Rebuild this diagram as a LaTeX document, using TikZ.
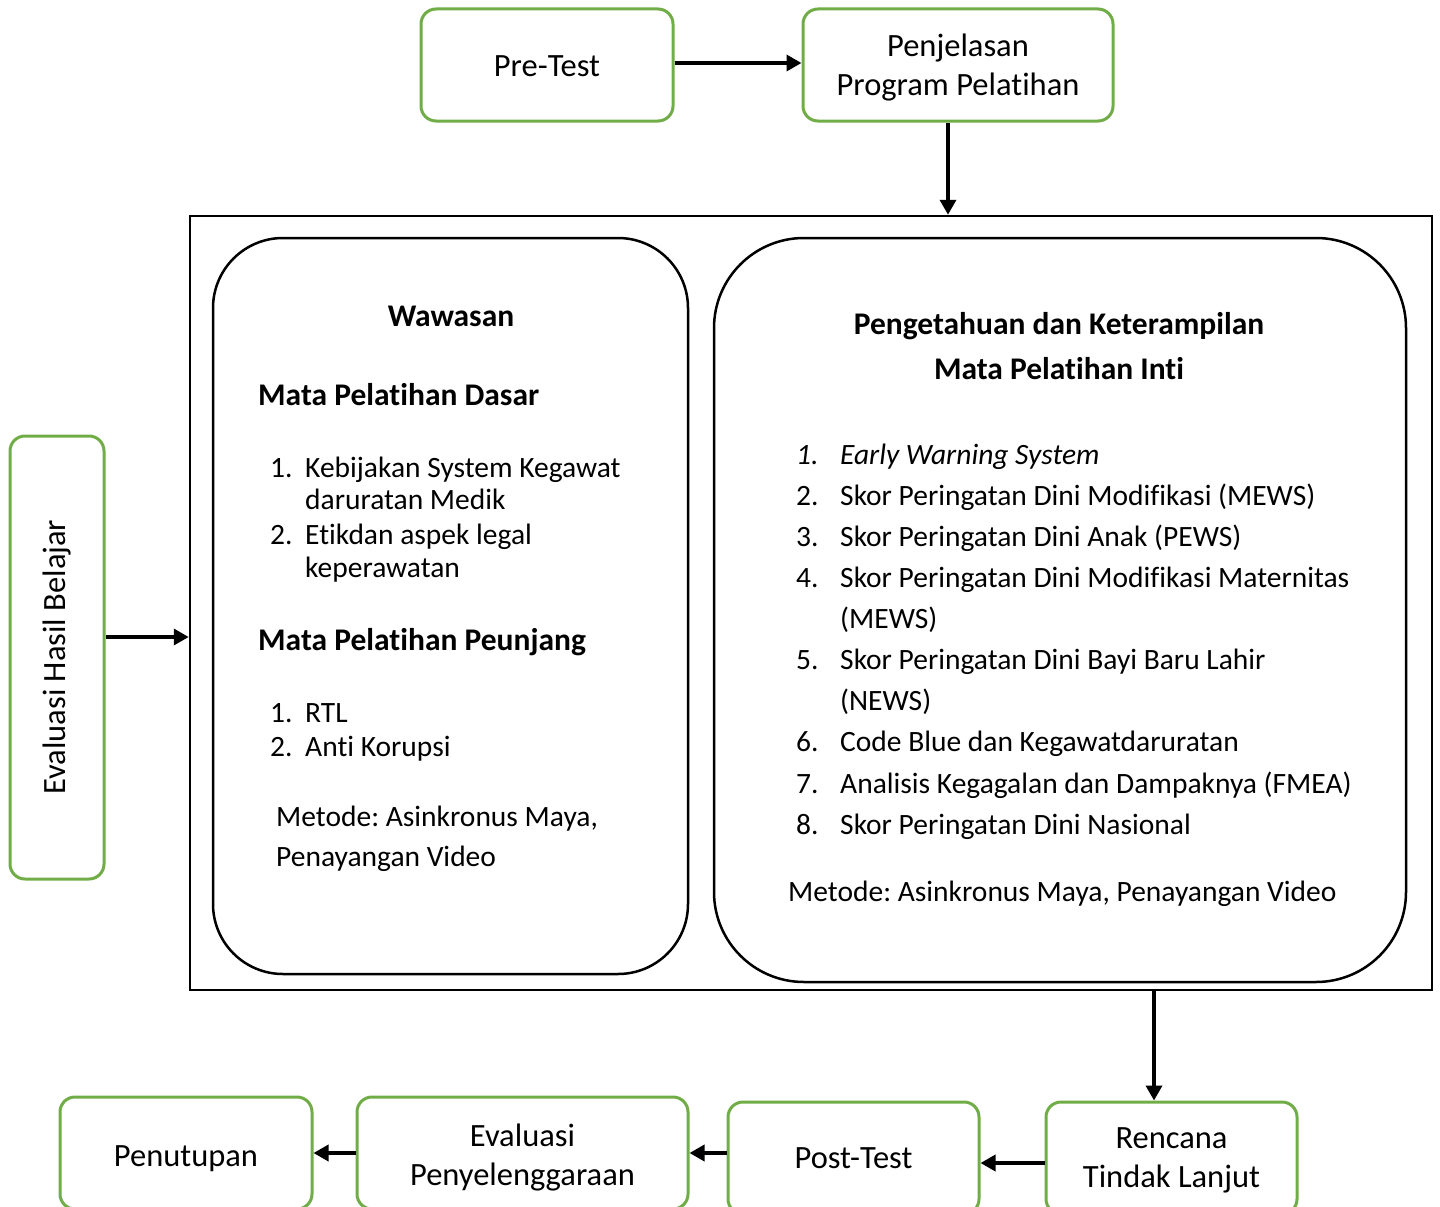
\documentclass[tikz,border=0pt]{standalone}
\usepackage{fontspec}
\setmainfont{Carlito}[Ligatures=NoCommon]
\usetikzlibrary{arrows.meta}
\definecolor{boxgreen}{HTML}{70AD47}
\frenchspacing
\newcommand{\dn}[2]{\raisebox{-#1pt}[0pt][0pt]{#2}}

\begin{document}
\begin{tikzpicture}[x=1pt,y=-1pt,
	every node/.style={font=\fontsize{29.5}{39}\selectfont, inner sep=0pt},
	gbox/.style={draw=boxgreen, line width=3pt, rounded corners=15pt, align=center, font=\fontsize{32.5}{39}\selectfont},
	arr/.style={line width=3.5pt, -{Triangle[length=15pt,width=16pt]}},
	txt/.style={anchor=base west},
	hd/.style={font=\fontsize{31.5}{39}\selectfont\bfseries}]
	\useasboundingbox (0,0) rectangle (1440,1207);
	
	% Top row
	\node[gbox, minimum width=252pt, minimum height=112pt] (pretest) at (547,65) {\dn{11.5}{Pre-Test}};
	\node[gbox, minimum width=310pt, minimum height=112pt] (penj) at (958,65) {\dn{11}{Penjelasan}\\\dn{11}{Program Pelatihan}};
	\draw[arr] (pretest.east |- 0,63) -- (penj.west |- 0,63);
	
	% Main frame with the two blocks
	\node[draw, line width=2.5pt, minimum width=1242pt, minimum height=774pt] (frame) at (811,603) {};
	\node[draw, line width=2.5pt, rounded corners=70pt, minimum width=475pt, minimum height=736pt] (dasar) at (450.5,606) {};
	\node[draw, line width=2.5pt, rounded corners=90pt, minimum width=692pt, minimum height=744pt] (inti) at (1060,610) {};
	\draw[arr] (948,0 |- penj.south) -- (948,0 |- frame.north);
	
	% Left block
	\node[hd, anchor=base] (wawasan) at (451,326) {Wawasan};
	\node[hd, txt] (mpd) at (258,405) {Mata Pelatihan Dasar};
	\node[txt] (d1) at (270,477) {1.};
	\node[txt] (d1a) at (305,477) {Kebijakan System Kegawat};
	\node[txt] (d1b) at (305,509) {daruratan Medik};
	\node[txt] (d2) at (270,544) {2.};
	\node[txt] (d2a) at (305,544) {Etikdan aspek legal};
	\node[txt] (d2b) at (305,577) {keperawatan};
	\node[hd, txt] (mpp) at (258,650) {Mata Pelatihan Peunjang};
	\node[txt] (p1) at (270,722) {1.};
	\node[txt] (p1a) at (305,722) {RTL};
	\node[txt] (p2) at (270,756) {2.};
	\node[txt] (p2a) at (305,756) {Anti Korupsi};
	\node[txt] (mtd1) at (276,826) {Metode: Asinkronus Maya,};
	\node[txt] (mtd1b) at (276,866) {Penayangan Video};
	
	% Right block
	\node[hd, anchor=base] (pk) at (1059,334) {Pengetahuan dan Keterampilan};
	\node[hd, anchor=base] (mpi) at (1059,379) {Mata Pelatihan Inti};
	\node[txt] (i1) at (796,464) {\itshape 1.};
	\node[txt] (i1a) at (840,464) {\itshape Early Warning System};
	\foreach \n/\y in {2/505, 3/546, 4/587, 5/669, 6/751, 7/793, 8/834} {
		\node[txt] (i\n) at (796,\y) {\n.};
	}
	\node[txt] (i2a) at (840,505) {Skor Peringatan Dini Modifikasi (MEWS)};
	\node[txt] (i3a) at (840,546) {Skor Peringatan Dini Anak (PEWS)};
	\node[txt] (i4a) at (840,587) {Skor Peringatan Dini Modifikasi Maternitas};
	\node[txt] (i4b) at (840,628) {(MEWS)};
	\node[txt] (i5a) at (840,669) {Skor Peringatan Dini Bayi Baru Lahir};
	\node[txt] (i5b) at (840,710) {(NEWS)};
	\node[txt] (i6a) at (840,751) {Code Blue dan Kegawatdaruratan};
	\node[txt] (i7a) at (840,793) {Analisis Kegagalan dan Dampaknya (FMEA)};
	\node[txt] (i8a) at (840,834) {Skor Peringatan Dini Nasional};
	\node[txt] (mtd2) at (788,901) {Metode: Asinkronus Maya, Penayangan Video};
	
	% Left side
	\node[gbox, minimum width=94pt, minimum height=443pt] (evalhb) at (57,657.5) {};
	\node[rotate=90, font=\fontsize{32.5}{39}\selectfont] (evalhbtxt) at (57,657) {Evaluasi Hasil Belajar};
	\draw[arr] (evalhb.east |- 0,637) -- (frame.west |- 0,637);
	
	% Bottom row
	\node[gbox, minimum width=251pt, minimum height=112pt] (renc) at (1171.5,1158) {\dn{10}{Rencana}\\\dn{10}{Tindak Lanjut}};
	\node[gbox, minimum width=251pt, minimum height=112pt] (post) at (853.5,1158) {\dn{10.5}{Post-Test}};
	\node[gbox, minimum width=331pt, minimum height=112pt] (evalp) at (522.5,1153) {\dn{13}{Evaluasi}\\\dn{13}{Penyelenggaraan}};
	\node[gbox, minimum width=252pt, minimum height=112pt] (tutup) at (186,1153) {\dn{13.5}{Penutupan}};
	\draw[arr] (1154,0 |- frame.south) -- (1154,0 |- renc.north);
	\draw[arr] (renc.west |- 0,1163) -- (post.east |- 0,1163);
	\draw[arr] (post.west |- 0,1153) -- (evalp.east |- 0,1153);
	\draw[arr] (evalp.west) -- (tutup.east);
\end{tikzpicture}
\end{document}
